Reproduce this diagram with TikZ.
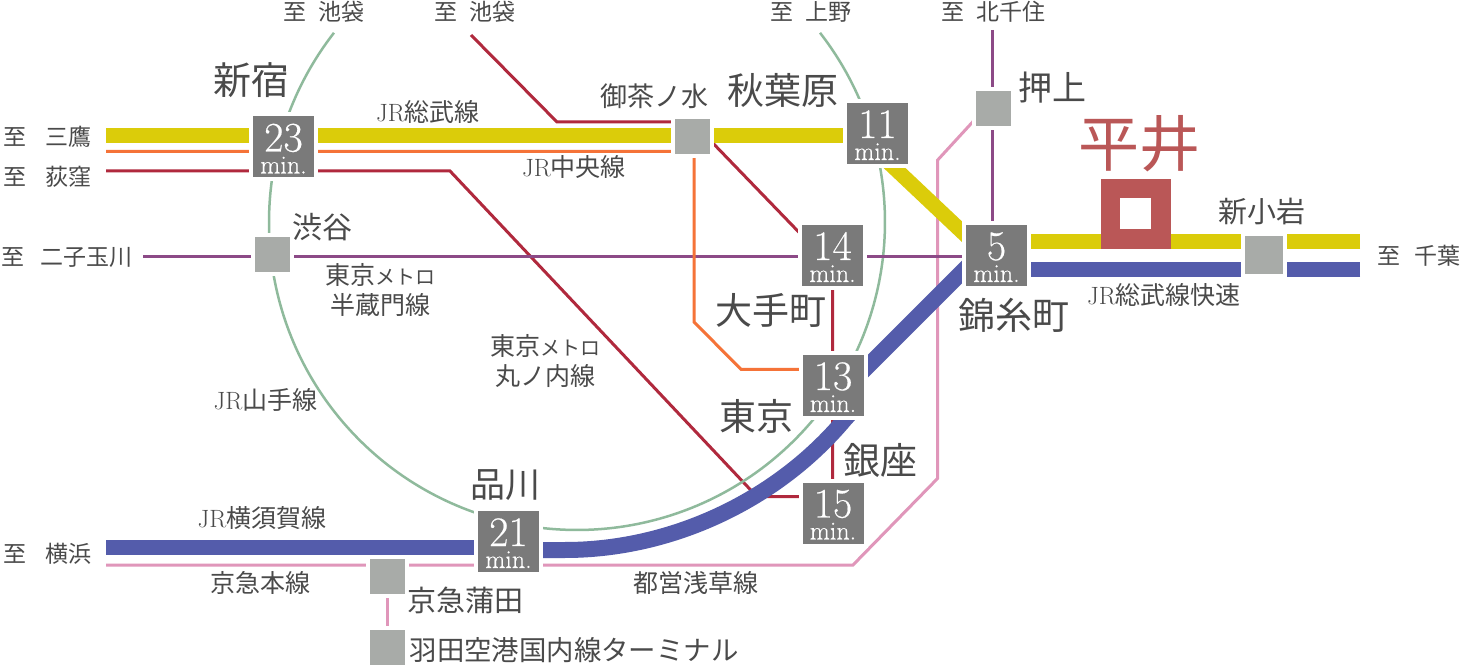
\documentclass[tikz,border=0pt]{standalone}
\usepackage{fontspec}
\usepackage{tikz}
\usetikzlibrary{backgrounds}
\newfontfamily\jp{Noto Sans CJK JP}
\newfontfamily\numfont{Latin Modern Roman}[FakeBold=0.4]
\definecolor{lineyellow}{rgb}{0.86,0.80,0.04}
\definecolor{lineorange}{rgb}{0.96,0.45,0.22}
\definecolor{linered}{rgb}{0.69,0.16,0.24}
\definecolor{linepurple}{rgb}{0.55,0.29,0.53}
\definecolor{lineblue}{rgb}{0.33,0.36,0.67}
\definecolor{linepink}{rgb}{0.88,0.59,0.73}
\definecolor{linegreen}{rgb}{0.56,0.73,0.61}
\definecolor{boxdark}{rgb}{0.48,0.48,0.48}
\definecolor{boxlight}{rgb}{0.66,0.67,0.66}
\definecolor{textgray}{rgb}{0.29,0.29,0.29}
\definecolor{hiraired}{rgb}{0.73,0.34,0.34}
\newcommand{\mins}[1]{{\fontsize{42}{42}\selectfont\rule{0pt}{31pt}#1}\\min.}
\newcommand{\kana}[1]{{\fontsize{20}{20}\selectfont #1}}
\tikzset{
  timebox/.style={draw=white,fill=boxdark,line width=4pt,minimum size=65pt,inner sep=0pt,text=white,align=center,font=\numfont\fontsize{26}{22}\selectfont},
  smallbox/.style={draw=white,fill=boxlight,line width=4pt,minimum size=#1,inner sep=0pt},
  lbl/.style={inner sep=0pt,text=textgray,align=center,font=\jp\fontsize{#1}{\numexpr#1+5\relax}\selectfont},
  wideline/.style={line width=15pt},
  curveline/.style={line width=16pt},
  thinline/.style={line width=3pt}
}
\begin{document}
\begin{tikzpicture}[x=1pt,y=-1pt]
\useasboundingbox (0,0) rectangle (1460,668);
\node [timebox] (shinjuku) at (283.5,147) {\mins{23}};
\node [timebox] (akihabara) at (877.5,133.5) {\mins{11}};
\node [timebox] (otemachi) at (832.5,255.5) {\mins{14}};
\node [timebox] (kinshicho) at (996.5,255.5) {\mins{5}};
\node [timebox] (tokyo) at (833,385.5) {\mins{13}};
\node [timebox] (ginza) at (833,513) {\mins{15}};
\node [timebox] (shinagawa) at (508.5,541.5) {\mins{21}};
\node [smallbox=39pt] (ochanomizu) at (692.5,136.5) {};
\node [smallbox=39pt] (shibuya) at (272,255) {};
\node [smallbox=39pt] (oshiage) at (993,108.5) {};
\node [smallbox=39pt] (keikyu) at (387.5,576) {};
\node [smallbox=39pt] (haneda) at (387.5,647.5) {};
\node [smallbox=42pt] (koiwa) at (1263.5,255) {};
\node [draw=hiraired,fill=white,line width=19.5pt,minimum size=50.5pt,inner sep=0pt] (hirai) at (1135.7,214) {};
\coordinate (mitaka) at (106,135.5);
\coordinate (ogi) at (106,151.5);
\coordinate (ogired) at (106,171);
\coordinate (nikotama) at (143,257);
\coordinate (ikered) at (471,35);
\coordinate (redbend) at (557,122);
\coordinate (redmid) at (832.5,267);
\coordinate (redleft) at (450,171);
\coordinate (redlow) at (757,496.7);
\coordinate (orangeA) at (694,322);
\coordinate (orangeB) at (741,369.3);
\coordinate (kitasenju) at (992,30);
\coordinate (chibay) at (1360,241.3);
\coordinate (chibab) at (1360,269.5);
\coordinate (yellowA) at (885,159);
\coordinate (yellowB) at (975,244);
\coordinate (blueA) at (985,249);
\coordinate (blueB) at (850,384);
\coordinate (yokoblue) at (106,547.5);
\coordinate (yokopink) at (106,565);
\coordinate (pinkA) at (853,565);
\coordinate (pinkB) at (937.7,478.3);
\coordinate (pinkC) at (937.7,160);
\begin{scope}[on background layer]
\fill [white] (0,0) rectangle (1460,668);
\draw [thinline,linepink] (yokopink) -- (pinkA) -- (pinkB) -- (pinkC) -- ([xshift=-8pt]oshiage.center);
\draw [thinline,linepink] (keikyu) -- (haneda);
\draw [thinline,linered] (ikered) -- (redbend) -- (redbend -| ochanomizu) -- (redmid) -- (ginza.center -| redmid);
\draw [thinline,linered] (ogired) -- (redleft) -- (redlow) -- (redlow -| ginza);
\draw [line width=2.5pt,linegreen] plot[domain=-37.9:217.9,samples=240,variable=\t]({577+308*cos(\t)},{222+308*sin(\t)});
\draw [thinline,linepurple] (nikotama) -- (nikotama -| kinshicho);
\draw [thinline,linepurple] (kitasenju) -- (kitasenju |- kinshicho);
\draw [thinline,lineorange] (ogi) -- (ogi -| orangeA) -- (orangeA) -- (orangeB) -- (orangeB -| tokyo);
\draw [wideline,lineyellow] (mitaka) -- (mitaka -| akihabara);
\draw [wideline,lineyellow] (yellowA) -- (yellowB);
\draw [wideline,lineyellow] (chibay) -- (chibay -| kinshicho);
\draw [wideline,lineblue] (chibab) -- (chibab -| kinshicho);
\draw [curveline,lineblue] (blueA) -- (blueB);
\draw [wideline,lineblue] (yokoblue) -- (yokoblue -| shinagawa);
\draw [curveline,lineblue] (shinagawa.center |- 0,550) -- (565,550) .. controls (671,550) and (776.5,500.8) .. (844.6,419.6) -- (855,408);
\end{scope}
\node [lbl=23] (toike) at (324,12) {至\hspace{.5em}池袋};
\node [lbl=23] (toikeb) at (475,12) {至\hspace{.5em}池袋};
\node [lbl=23] (toueno) at (811,12) {至\hspace{.5em}上野};
\node [lbl=23] (tokita) at (993.5,12) {至\hspace{.5em}北千住};
\node [lbl=23,anchor=west] (tomitaka) at (3,137) {至\hspace{.85em}三鷹};
\node [lbl=23,anchor=west] (toogi) at (3,177) {至\hspace{.85em}荻窪};
\node [lbl=23,anchor=west] (tonikotama) at (1,257) {至\hspace{.7em}二子玉川};
\node [lbl=23,anchor=west] (toyoko) at (3,554) {至\hspace{.85em}横浜};
\node [lbl=23,anchor=west] (tochiba) at (1377,256) {至\hspace{.6em}千葉};
\node [lbl=38] (nshinjuku) at (251,80) {新宿};
\node [lbl=30] (nshibuya) at (322.5,227) {渋谷};
\node [lbl=27] (nochanomizu) at (654,96) {御茶ノ水};
\node [lbl=37] (nakihabara) at (782.5,90) {秋葉原};
\node [lbl=34] (noshiage) at (1052,88) {押上};
\node [lbl=37] (notemachi) at (771,310) {大手町};
\node [lbl=37] (ntokyo) at (756.5,416) {東京};
\node [lbl=37] (nginza) at (880,460) {銀座};
\node [lbl=37] (nkinshicho) at (1014,315) {錦糸町};
\node [lbl=35] (nshinagawa) at (505,485) {品川};
\node [lbl=29] (nkeikyu) at (465,600) {京急蒲田};
\node [lbl=27,font=\jp\fontsize{27.4}{30}\selectfont] (nhaneda) at (574,650) {羽田空港国内線ターミナル};
\node [lbl=29] (nkoiwa) at (1262,212) {新小岩};
\node [inner sep=0pt,text=hiraired,font=\jp\fontsize{61}{61}\selectfont] (nhirai) at (1139,144) {平井};
\node [lbl=25] (lsobu) at (428,112) {{\rmfamily JR}総武線};
\node [lbl=25] (lchuo) at (574,167) {{\rmfamily JR}中央線};
\node [lbl=25] (lyamanote) at (265.5,400) {{\rmfamily JR}山手線};
\node [lbl=25] (lyokosuka) at (262,518) {{\rmfamily JR}横須賀線};
\node [lbl=25] (lrapid) at (1164,295) {{\rmfamily JR}総武線快速};
\node [lbl=25] (lhanzomon) at (380.5,290) {東京\kana{メトロ}\\半蔵門線};
\node [lbl=25] (lmarunouchi) at (545.5,361) {東京\kana{メトロ}\\丸ノ内線};
\node [lbl=25] (lkeikyu) at (260,583) {京急本線};
\node [lbl=25] (lasakusa) at (695.5,583) {都営浅草線};
\end{tikzpicture}
\end{document}
